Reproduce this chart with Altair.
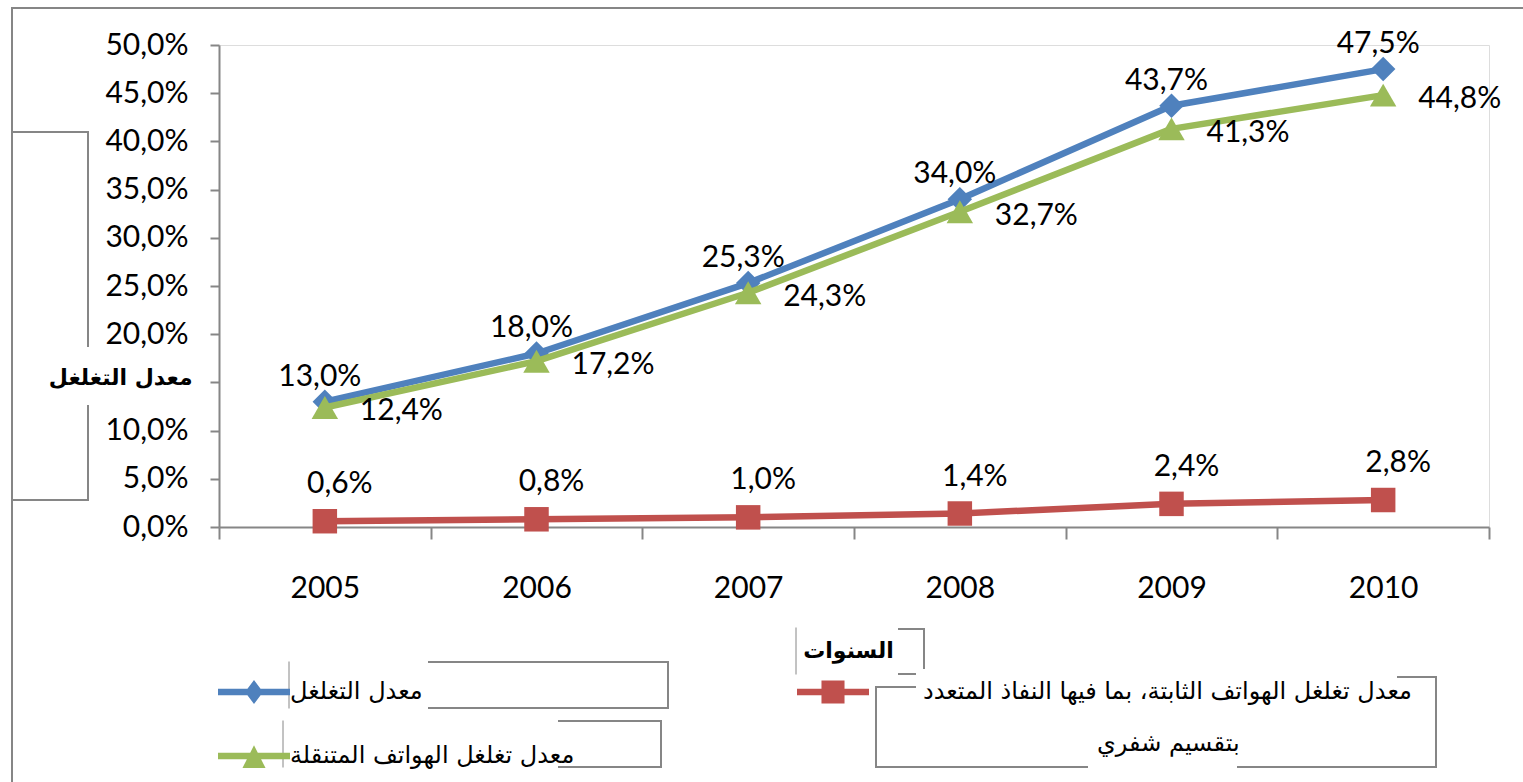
import altair as alt
import pandas as pd

# ---------------- data ----------------
years = ["2005", "2006", "2007", "2008", "2009", "2010"]
total_rate = [13.0, 18.0, 25.3, 34.0, 43.7, 47.5]      # معدل التغلغل
fixed_rate = [0.6, 0.8, 1.0, 1.4, 2.4, 2.8]            # الهواتف الثابتة
mobile_rate = [12.4, 17.2, 24.3, 32.7, 41.3, 44.8]     # الهواتف المتنقلة

S_TOTAL = "معدل التغلغل"
S_FIXED = "معدل تغلغل الهواتف الثابتة، بما فيها النفاذ المتعدد بتقسيم شفري"
S_MOBILE = "معدل تغلغل الهواتف المتنقلة"
series_names = [S_TOTAL, S_FIXED, S_MOBILE]
series_values = [total_rate, fixed_rate, mobile_rate]
series_colors = ["#4F81BD", "#C0504D", "#9BBB59"]
fixed_label_lines = ["معدل تغلغل الهواتف الثابتة، بما فيها النفاذ المتعدد", "بتقسيم شفري"]
y_ticks = [0.0, 0.05, 0.10, 0.15, 0.20, 0.25, 0.30, 0.35, 0.40, 0.45, 0.50]

rows = []
for name, vals in zip(series_names, series_values):
    for yr, v in zip(years, vals):
        rows.append({"year": yr, "series": name, "value": v / 100.0,
                     "label": f"{v:.1f}%".replace(".", ",")})
df = pd.DataFrame(rows)

# ---------------- layout constants ----------------
OX, OY = 219, 45          # plot origin in the page
W, H = 1270, 482
NUM_FONT = "Lato"
AR_FONT = "DejaVu Sans"
GRAY = "#868686"

x_enc = alt.X("year:N", scale=alt.Scale(type="band", domain=years, paddingInner=0, paddingOuter=0),
              axis=alt.Axis(title="السنوات", labelAngle=0, tickBand="extent", tickSize=12,
                            tickColor=GRAY, tickWidth=2, domainColor=GRAY, domainWidth=2,
                            labelFont=NUM_FONT, labelFontSize=30, labelColor="black",
                            labelPadding=34, grid=False,
                            titleFont=AR_FONT, titleFontSize=22, titleFontWeight="bold",
                            titleColor="black", titleX=629, titleY=123, titleBaseline="middle",
                            titleAlign="center"))
y_enc = alt.Y("value:Q", scale=alt.Scale(domain=[0, 0.5], nice=False),
              axis=alt.Axis(values=y_ticks,
                            labelExpr="abs(datum.value - 0.15) < 0.001 ? '' : replace(format(datum.value, '.1%'), '.', ',')",
                            tickSize=9, tickColor=GRAY, tickWidth=2, domainColor=GRAY, domainWidth=2,
                            labelFont=NUM_FONT, labelFontSize=30, labelColor="black",
                            labelPadding=22, grid=False,
                            title="معدل التغلغل", titleAngle=0, titleAlign="right",
                            titleBaseline="middle", titleX=-27, titleY=332,
                            titleFont=AR_FONT, titleFontSize=22, titleFontWeight="bold",
                            titleColor="black"))

color_scale = alt.Scale(domain=series_names, range=series_colors)

# ---------------- decorative frame segments (text-box outlines) ----------------
frame_segments = [
    # (x1, y1, x2, y2, width) in page pixels
    (12, 8, 12, 782, 2), (12, 8, 1523, 8, 2),
    (12, 132, 88, 132, 2), (88, 132, 88, 346, 2), (88, 406, 88, 500, 2), (12, 500, 88, 500, 2),
    (796, 628, 796, 674, 1), (899, 629, 924, 629, 2), (924, 629, 924, 668, 2), (899, 674, 915, 674, 2),
    (289, 662, 289, 708, 1), (429, 662, 668, 662, 2), (668, 662, 668, 708, 2), (429, 708, 668, 708, 2),
    (283, 721, 283, 767, 1), (559, 721, 661, 721, 2), (661, 721, 661, 767, 2), (559, 767, 661, 767, 2),
    (876, 687, 876, 767, 2), (876, 687, 915, 687, 2), (1398, 677, 1436, 677, 2),
    (1436, 677, 1436, 767, 2), (876, 767, 1087, 767, 2), (1238, 767, 1436, 767, 2),
]
frame_layers = []
for (x1, y1, x2, y2, sw) in frame_segments:
    frame_layers.append(
        alt.Chart(alt.Data(values=[{}])).mark_rule(color=GRAY, strokeWidth=sw, strokeCap="square").encode(
            x=alt.value(x1 - OX), x2=alt.value(x2 - OX), y=alt.value(y1 - OY), y2=alt.value(y2 - OY))
    )

# ---------------- series layers ----------------
base = alt.Chart(df)
marker_shapes = {S_TOTAL: ("diamond", 600), S_FIXED: ("square", 600), S_MOBILE: ("triangle-up", 700)}

series_layers = []
for name, col in zip(series_names, series_colors):
    sub = base.transform_filter(alt.datum.series == name)
    line = sub.mark_line(color=col, strokeWidth=6.5, strokeCap="round", strokeJoin="round").encode(
        x=x_enc, y=y_enc)
    shp, sz = marker_shapes[name]
    pts = sub.mark_point(shape=shp, size=sz, filled=True, color=col, opacity=1, strokeWidth=0).encode(
        x=x_enc, y=y_enc)
    series_layers += [line, pts]

# ---------------- data labels ----------------
lbl_common = dict(font=NUM_FONT, fontSize=30, color="black", baseline="middle")
lbl_total = base.transform_filter(alt.datum.series == S_TOTAL).mark_text(
    align="center", dx=-5, dy=-25, **lbl_common).encode(x=x_enc, y=y_enc, text="label:N")
lbl_mobile = base.transform_filter(alt.datum.series == S_MOBILE).mark_text(
    align="left", dx=35, dy=4, **lbl_common).encode(x=x_enc, y=y_enc, text="label:N")
lbl_fixed = base.transform_filter(alt.datum.series == S_FIXED).mark_text(
    align="center", dx=15, dy=-37, **lbl_common).encode(x=x_enc, y=y_enc, text="label:N")

# ---------------- legend (line + marker symbols) ----------------
path_total = "M-3,-0.27H3V0.27H-3Z M0,-1L0.75,0L0,1L-0.75,0Z"
path_fixed = "M-3,-0.27H3V0.27H-3Z M-0.96,-0.96H0.96V0.96H-0.96Z"
path_mobile = "M-3,-0.27H3V0.27H-3Z M0,-0.9L0.96,1.0H-0.96Z"
legend_paths = [path_total, path_fixed, path_mobile]

LRM, EM, EN, QUARTER = "\u200e", "\u2003", "\u2002", "\u2005"
line1 = LRM + EM * 2 + QUARTER + fixed_label_lines[0]
line2 = LRM + EM * 9 + EN + fixed_label_lines[1]
label_expr = f"datum.label == '{S_FIXED}' ? ['{line1}', '{line2}'] : datum.label"

legend_def = alt.Legend(title=None, orient="none", legendX=23, legendY=635, columns=2,
                        direction="horizontal", gridAlign="none", columnPadding=222, rowPadding=-12,
                        symbolSize=576, symbolStrokeWidth=0, symbolOpacity=1,
                        labelFont=AR_FONT, labelFontSize=24, labelColor="black",
                        labelLimit=1200, labelOffset=24, labelExpr=label_expr, padding=0)

legend_layer = alt.Chart(df).mark_point(filled=True, opacity=0, size=1).encode(
    x=x_enc, y=y_enc,
    color=alt.Color("series:N", scale=color_scale, legend=legend_def),
    shape=alt.Shape("series:N", scale=alt.Scale(domain=series_names, range=legend_paths), legend=legend_def),
)

chart = alt.layer(*frame_layers, *series_layers, lbl_total, lbl_mobile, lbl_fixed, legend_layer).properties(
    width=W, height=H,
    autosize=alt.AutoSizeParams(type="none"),
    padding={"left": OX, "top": OY, "right": 1523 - OX - W, "bottom": 782 - OY - H},
    background="white",
).configure_view(strokeWidth=0).configure(style={"guide-label": {"lineHeight": 52}})

chart.save("out.html", embed_options={"renderer": "svg", "actions": False})
